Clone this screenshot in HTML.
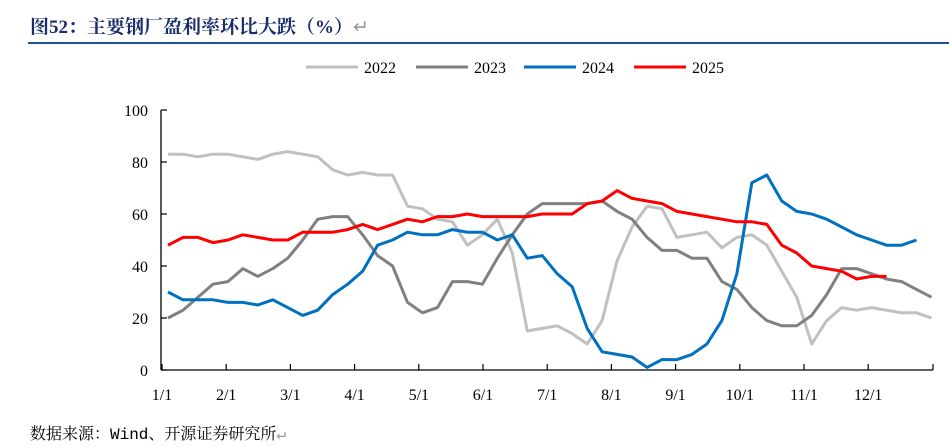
<!DOCTYPE html>
<html><head><meta charset="utf-8">
<style>
body{margin:0;background:#fff;width:949px;height:447px;overflow:hidden;font-family:"Liberation Serif","Noto Serif CJK SC",serif}
#title{position:absolute;left:30px;top:12px;font-size:19px;font-weight:bold;color:#1a2d6b;font-family:"Liberation Serif","Noto Serif CJK SC",serif}
#rule{position:absolute;left:28px;top:42px;width:921px;height:2px;background:#1f4e9c}
#src{position:absolute;left:30px;top:421px;font-size:16px;color:#000;font-family:"Liberation Mono","Noto Serif CJK SC",monospace}
</style></head><body>
<div id="title">图52：主要钢厂盈利率环比大跌（%）<span style="color:#999;font-weight:normal">↵</span></div>
<div id="rule"></div>
<svg id="c" width="949" height="447" style="position:absolute;left:0;top:0"></svg>
<div id="src">数据来源：Wind、开源证券研究所<span style="color:#999">↵</span></div>
<script>
const years=["2022","2023","2024","2025"];
const colors=["#c0c0c0","#808080","#0070c0","#ff0000"];
const monthLabels=["1/1","2/1","3/1","4/1","5/1","6/1","7/1","8/1","9/1","10/1","11/1","12/1"];
const yTicks=[0,20,40,60,80,100];
const s2022=[83,83,82,83,83,82,81,83,84,83,82,77,75,76,75,75,63,62,58,57,48,52,58,45,15,16,17,14,10,19,42,55,63,62,51,52,53,47,51,52,48,38,28,10,19,24,23,24,23,22,22,20];
const s2023=[20,23,28,33,34,39,36,39,43,50,58,59,59,52,44,40,26,22,24,34,34,33,43,52,60,64,64,64,64,65,61,58,51,46,46,43,43,34,31,24,19,17,17,21,29,39,39,37,35,34,31,28];
const s2024=[30,27,27,27,26,26,25,27,24,21,23,29,33,38,48,50,53,52,52,54,53,53,50,52,43,44,37,32,16,7,6,5,1,4,4,6,10,19,37,72,75,65,61,60,58,55,52,50,48,48,50];
const s2025=[48,51,51,49,50,52,51,50,50,53,53,53,54,56,54,56,58,57,59,59,60,59,59,59,59,60,60,60,64,65,69,66,65,64,61,60,59,58,57,57,56,48,45,40,39,38,35,36,36];
const series=[s2022,s2023,s2024,s2025];
const svg=document.getElementById('c');const NS='http://www.w3.org/2000/svg';
const X0=161,X1=933,Y0=370,Y1=110;
const xw=i=>168+i*14.97;
const xm=m=>162+m*64.2;
const y=v=>Y0-(v-0)/(100-0)*(Y0-Y1);
function el(t,a,p){const e=document.createElementNS(NS,t);for(const k in a)e.setAttribute(k,a[k]);(p||svg).appendChild(e);return e;}
const ya=el('line',{x1:X0,y1:Y1,x2:X0,y2:Y0,stroke:'#000','stroke-width':1.3});


const xa=el('line',{x1:X0,y1:Y0,x2:X1,y2:Y0,stroke:'#000','stroke-width':1.3});


yTicks.forEach(v=>{
  el('line',{x1:X0,y1:y(v),x2:X0+6,y2:y(v),stroke:'#000','stroke-width':1.2});
  const t=el('text',{x:X0-13,y:y(v)+6,'text-anchor':'end','font-size':16,fill:'#000'});t.textContent=v;
  
  
});
monthLabels.forEach((m,i)=>{
  el('line',{x1:xm(i),y1:Y0,x2:xm(i),y2:Y0-6,stroke:'#000','stroke-width':1.2});
  const t=el('text',{x:xm(i),y:Y0+30,'text-anchor':'middle','font-size':16,fill:'#000'});t.textContent=m;
  
  
});
el('line',{x1:X1,y1:Y0,x2:X1,y2:Y0-6,stroke:'#000','stroke-width':1.2});
series.forEach((s,k)=>{
  const p=el('polyline',{points:s.map((v,i)=>xw(i)+','+y(v)).join(' '),fill:'none',stroke:colors[k],'stroke-width':3,'stroke-linejoin':'round'});
  
  
});
const lx=[306,416,524,634];
years.forEach((yr,k)=>{
  const g=el('g',{});
  
  
  el('line',{x1:lx[k],y1:67,x2:lx[k]+52,y2:67,stroke:colors[k],'stroke-width':3},g);
  const t=el('text',{x:lx[k]+58,y:73,'font-size':16,fill:'#000'},g);t.textContent=yr;
});
</script>
</body></html>
